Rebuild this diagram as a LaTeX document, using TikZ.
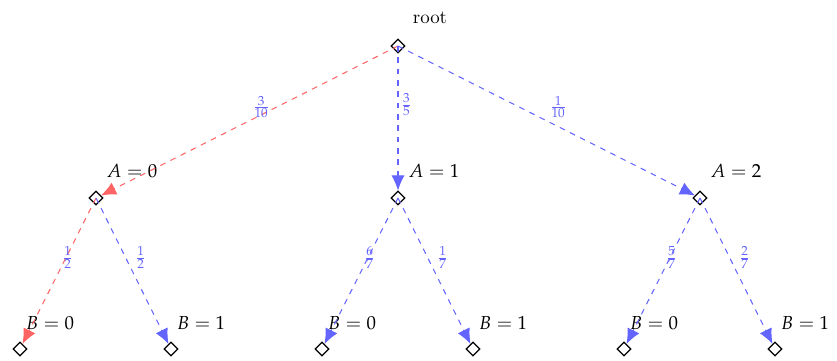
\documentclass[tikz,border=0pt]{standalone}
\usepackage{mathpazo}
\usetikzlibrary{shapes.geometric,arrows.meta}
\definecolor{cred}{RGB}{255,100,100}
\definecolor{cblue}{RGB}{100,100,255}
\tikzset{
  dnode/.style={draw=black,shape=diamond,minimum size=7.4pt,inner sep=0pt,line width=0.6pt},
  redge/.style={draw=cred,dashed,line width=0.55pt,-{Latex[length=8pt,width=7pt]}},
  bedge/.style={draw=cblue,dashed,line width=0.55pt,-{Latex[length=8pt,width=7pt]}},
  elab/.style={midway,anchor=south west,inner sep=1.2pt,text=cblue,font=\small},
  tlab/.style={inner sep=0pt}
}
\begin{document}
\begin{tikzpicture}[x=0.53pt,y=-0.53pt]
\useasboundingbox (0,0) rectangle (837,361);
\node[dnode] (r) at (398,46) {};
\node[dnode] (a0) at (96,198) {};
\node[dnode] (a1) at (398,198) {};
\node[dnode] (a2) at (700,198) {};
\node[dnode] (b00) at (20,349) {};
\node[dnode] (b01) at (171,349) {};
\node[dnode] (b10) at (322,349) {};
\node[dnode] (b11) at (473,349) {};
\node[dnode] (b20) at (624,349) {};
\node[dnode] (b21) at (775,349) {};
\node[tlab] (lr) at (430,18) {root};
\node[tlab] (la0) at (132,171) {$A=0$};
\node[tlab] (la1) at (434,171) {$A=1$};
\node[tlab] (la2) at (736,171) {$A=2$};
\node[tlab] (lb00) at (50,323) {$B=0$};
\node[tlab] (lb01) at (201,323) {$B=1$};
\node[tlab] (lb10) at (352,323) {$B=0$};
\node[tlab] (lb11) at (503,323) {$B=1$};
\node[tlab] (lb20) at (654,323) {$B=0$};
\node[tlab] (lb21) at (805,323) {$B=1$};
\draw[redge] (r.center) -- (a0) node[elab] {$\frac{3}{10}$};
\draw[bedge] (r.center) -- (a1) node[elab] {$\frac{3}{5}$};
\draw[bedge] (r.center) -- (a2) node[elab] {$\frac{1}{10}$};
\draw[redge] (a0.center) -- (b00) node[elab] {$\frac{1}{2}$};
\draw[bedge] (a0.center) -- (b01) node[elab] {$\frac{1}{2}$};
\draw[bedge] (a1.center) -- (b10) node[elab] {$\frac{6}{7}$};
\draw[bedge] (a1.center) -- (b11) node[elab] {$\frac{1}{7}$};
\draw[bedge] (a2.center) -- (b20) node[elab] {$\frac{5}{7}$};
\draw[bedge] (a2.center) -- (b21) node[elab] {$\frac{2}{7}$};
\end{tikzpicture}
\end{document}
